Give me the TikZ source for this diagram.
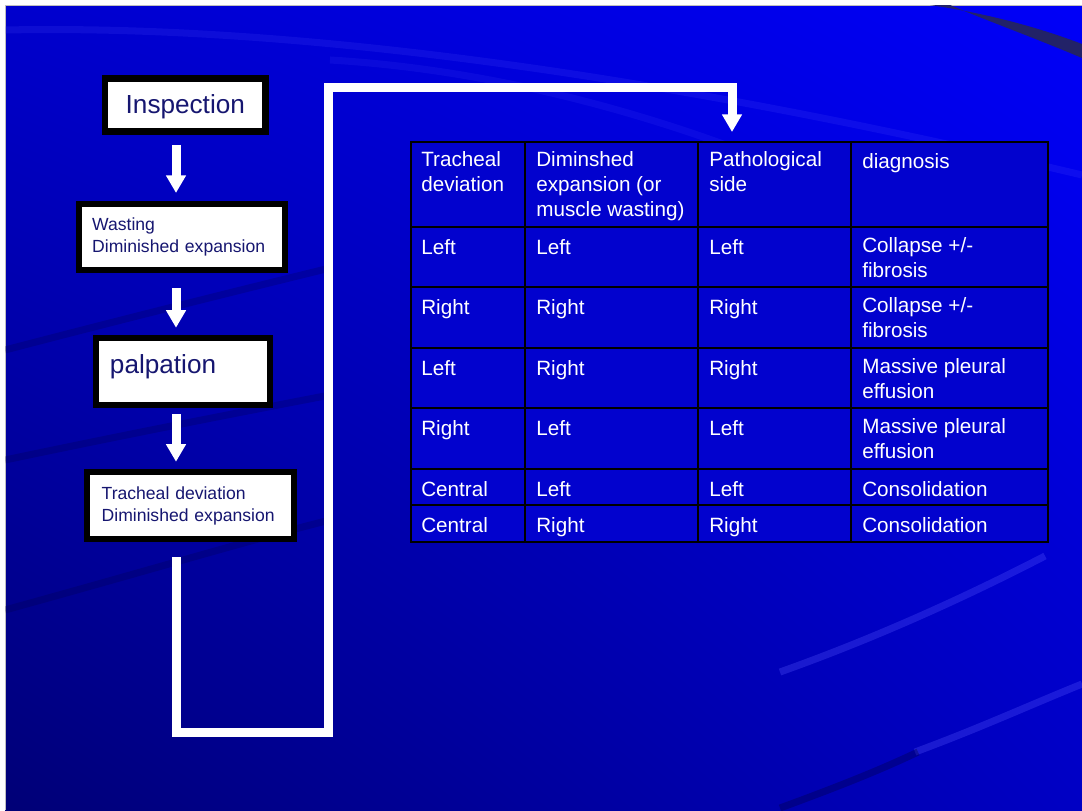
\documentclass[tikz,border=0pt]{standalone}
\usepackage{fontspec}
\setmainfont{Liberation Sans}
\usepackage{tikz}
\usetikzlibrary{arrows.meta, shadings}
\definecolor{slidetl}{RGB}{0,0,205}
\definecolor{slidetr}{RGB}{0,0,248}
\definecolor{slidebl}{RGB}{0,0,118}
\definecolor{slidebr}{RGB}{0,0,196}
\definecolor{tabfill}{RGB}{2,2,206}
\definecolor{boxtext}{RGB}{22,22,112}
\definecolor{swoosh}{RGB}{34,34,104}
\tikzset{
        x=0.025cm, y=-0.025cm, % one unit is one pixel of the slide, y going down
        flowbox/.style={draw=black, fill=white, line width=4.6pt, text=boxtext}, % the white boxes on the left
        bigtext/.style={font=\fontsize{18.6}{22}\selectfont}, % Inspection, palpation
        smalltext/.style={font=\fontsize{12.5}{15.6}\selectfont, align=left}, % the two line boxes
        flowarrow/.style={draw=white, line width=6.4pt, -{Triangle[length=12.5pt, width=13.5pt]}}, % white arrows
        tablerule/.style={draw=black, line width=1.4pt}, % lines of the table
        tabcell/.style={anchor=north west, inner sep=0pt, align=left, text=white,
                font=\fontsize{14.7}{17.7}\selectfont, execute at begin node=\strut}, % text in the table
        swirl/.style={draw=blue!65!white, opacity=.3, line width=5pt}, % light bands behind
        darkswirl/.style={draw=black!80!blue, opacity=.3, line width=5pt}, % dark bands behind
}
\def\slidearea{(5,5) rectangle (1082,810)}
% one row of the table: number, top y, four texts
\newcommand\cellrow[6]{%
  \node[tabcell] (cell-#1-1) at (421,#2+10) {#3};
  \node[tabcell] (cell-#1-2) at (536,#2+10) {#4};
  \node[tabcell] (cell-#1-3) at (709,#2+10) {#5};
  \node[tabcell] (cell-#1-4) at (862,#2+10) {#6};}

\begin{document}
\begin{tikzpicture}
  \useasboundingbox (0,0) rectangle (1082,810);
  \fill[white] (0,0) rectangle (1082,810);
  \shade[upper left=slidetl, upper right=slidetr, lower left=slidebl, lower right=slidebr] \slidearea;
  \draw[gray!50, line width=0.6pt] (5,810) -- (5,5) -- (1082,5);
  % background bands
  \begin{scope}
    \clip \slidearea;
    \draw[swirl, opacity=.15] (5,30) .. controls (250,25) and (600,60) .. (1082,175);
    \draw[swirl, opacity=.12] (330,60) .. controls (500,70) and (700,120) .. (900,220);
    \draw[swirl] (780,672) .. controls (870,640) and (960,600) .. (1045,556);
    \draw[swirl] (915,752) .. controls (980,728) and (1030,705) .. (1082,684);
    \draw[darkswirl] (780,808) .. controls (840,786) and (880,770) .. (918,752);
    \draw[darkswirl, opacity=.2] (5,350) .. controls (120,320) and (220,295) .. (330,268);
    \draw[darkswirl, opacity=.2] (5,460) .. controls (100,440) and (200,420) .. (330,395);
    \draw[darkswirl, opacity=.2] (5,610) .. controls (150,570) and (250,540) .. (330,520);
    \fill[swoosh] (930,5) .. controls (990,14) and (1040,28) .. (1082,44) -- (1082,58)
      .. controls (1035,38) and (985,20) .. (950,5) -- cycle;
  \end{scope}

  % flow on the left
  \coordinate (spine) at (176,0);
  \node[flowbox, bigtext, minimum width=4.01cm, minimum height=1.33cm, inner sep=0pt,
        text height=0.55cm] (insp) at (185.3,105) {Inspection};
  \node[flowbox, smalltext, text width=4.48cm, inner xsep=0.333cm, minimum height=1.65cm] (wast) at (181.8,236.8) {Wasting\\Diminished expansion};
  \node[flowbox, bigtext, align=left, text width=3.65cm, inner xsep=0.35cm, minimum height=1.675cm,
        text height=0.59cm, text depth=0.5cm] (palp) at (183,371.5) {palpation};
  \node[flowbox, smalltext, text width=4.44cm, inner xsep=0.3675cm, minimum height=1.675cm] (trach) at (190.5,505.5) {Tracheal deviation\\Diminished expansion};

  \draw[flowarrow, shorten <=0.25cm, shorten >=0.19cm] (insp.south -| spine) -- (wast.north -| spine);
  \draw[flowarrow, shorten <=0.375cm, shorten >=0.175cm] (wast.south -| spine) -- (palp.north -| spine);
  \draw[flowarrow, shorten <=0.15cm, shorten >=0.175cm] (palp.south -| spine) -- (trach.north -| spine);

  % table
  \node[tablerule, fill=tabfill, minimum width=15.925cm, minimum height=10cm, anchor=north west, inner sep=0pt] (tab) at (410,141) {};
  \foreach \x in {525,698,851} \draw[tablerule] (\x,141) -- (\x,541);
  \foreach \y in {227,287,348,408,469,505} \draw[tablerule] (410,\y) -- (1047,\y);
  \cellrow{1}{141}{Tracheal\\deviation}{Diminshed\\expansion (or\\muscle wasting)}{Pathological\\side}{diagnosis}
  \cellrow{2}{227}{Left}{Left}{Left}{Collapse +/-\\fibrosis}
  \cellrow{3}{287}{Right}{Right}{Right}{Collapse +/-\\fibrosis}
  \cellrow{4}{348}{Left}{Right}{Right}{Massive pleural\\effusion}
  \cellrow{5}{408}{Right}{Left}{Left}{Massive pleural\\effusion}
  \cellrow{6}{469}{Central}{Left}{Left}{Consolidation}
  \cellrow{7}{505}{Central}{Right}{Right}{Consolidation}

  % long connector round to the table
  \coordinate (riser) at (328.5,732);
  \coordinate (drop) at (732,87.5);
  \draw[flowarrow, shorten <=0.375cm, shorten >=0.225cm] (trach.south -| spine) |- (riser) |- (drop) -- (tab.north -| drop);
\end{tikzpicture}
\end{document}
